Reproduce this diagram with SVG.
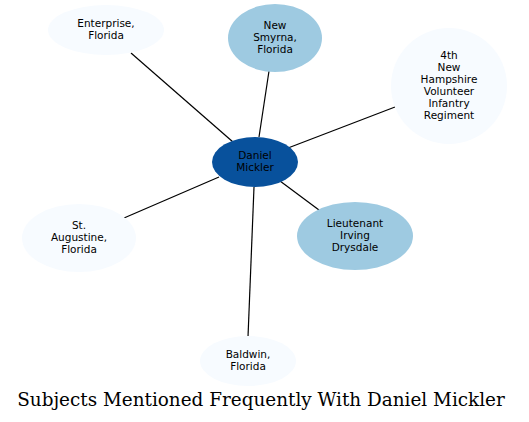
<svg xmlns="http://www.w3.org/2000/svg" width="529" height="422" viewBox="0 0 529 422">
<style>
.t{font-family:"DejaVu Sans",sans-serif;font-size:10.5px;text-anchor:middle;fill:#000}
.e{stroke:#000;stroke-width:1.2;fill:none}
.lt{fill:#f7fbff}
.md{fill:#9ecae1}
.dk{fill:#08519c}
</style>
<rect width="529" height="422" fill="#fff"/>
<g id="edges">
<line class="e" x1="131" y1="53" x2="233" y2="142"/>
<line class="e" x1="269" y1="71" x2="259" y2="137"/>
<line class="e" x1="395" y1="107" x2="288" y2="148"/>
<line class="e" x1="124" y1="218" x2="219" y2="177"/>
<line class="e" x1="319" y1="210" x2="280" y2="181"/>
<line class="e" x1="254" y1="187" x2="248" y2="337"/>
</g>
<g id="daniel">
<ellipse class="dk" cx="255" cy="162" rx="43" ry="25"/>
<text class="t" x="255" y="159">Daniel</text>
<text class="t" x="255" y="171">Mickler</text>
</g>
<g id="enterprise">
<ellipse class="lt" cx="106" cy="30" rx="58" ry="25"/>
<text class="t" x="106" y="27">Enterprise,</text>
<text class="t" x="106" y="39">Florida</text>
</g>
<g id="newsmyrna">
<ellipse class="md" cx="275" cy="38" rx="47" ry="34"/>
<text class="t" x="275" y="29">New</text>
<text class="t" x="275" y="41">Smyrna,</text>
<text class="t" x="275" y="53">Florida</text>
</g>
<g id="nh">
<ellipse class="lt" cx="449" cy="86" rx="58" ry="58"/>
<text class="t" x="449" y="59">4th</text>
<text class="t" x="449" y="71">New</text>
<text class="t" x="449" y="83">Hampshire</text>
<text class="t" x="449" y="95">Volunteer</text>
<text class="t" x="449" y="107">Infantry</text>
<text class="t" x="449" y="119">Regiment</text>
</g>
<g id="staugustine">
<ellipse class="lt" cx="79" cy="238" rx="57" ry="34"/>
<text class="t" x="79" y="229">St.</text>
<text class="t" x="79" y="241">Augustine,</text>
<text class="t" x="79" y="253">Florida</text>
</g>
<g id="drysdale">
<ellipse class="md" cx="355" cy="236" rx="58" ry="34"/>
<text class="t" x="355" y="227">Lieutenant</text>
<text class="t" x="355" y="239">Irving</text>
<text class="t" x="355" y="251">Drysdale</text>
</g>
<g id="baldwin">
<ellipse class="lt" cx="248" cy="361" rx="48" ry="25"/>
<text class="t" x="248" y="358">Baldwin,</text>
<text class="t" x="248" y="370">Florida</text>
</g>
<text x="261" y="406" style="font-family:'DejaVu Serif',serif;font-size:18.4px;text-anchor:middle;fill:#000">Subjects Mentioned Frequently With Daniel Mickler</text>
</svg>
